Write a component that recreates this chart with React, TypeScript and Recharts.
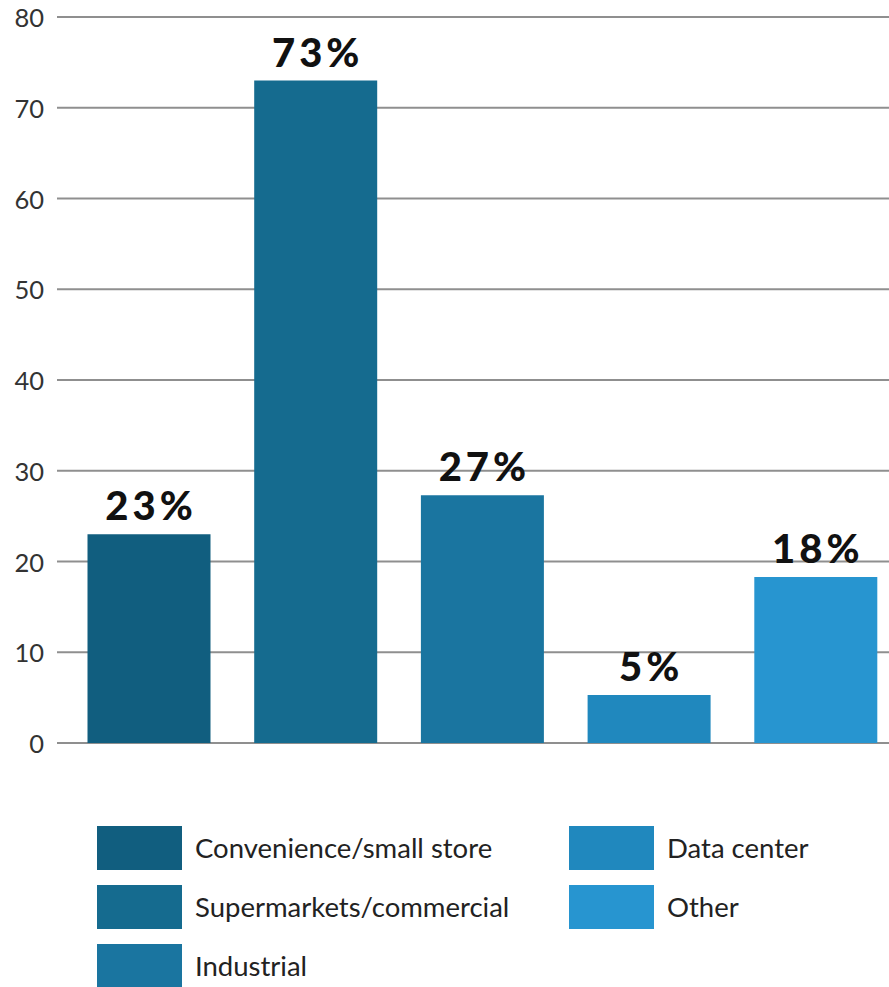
import React from 'react';
import { BarChart, Bar, XAxis, YAxis, CartesianGrid, Cell, LabelList, Legend } from 'recharts';

const categories = ['Convenience/small store', 'Supermarkets/commercial', 'Industrial', 'Data center', 'Other'];
const values = [23, 73, 27.3, 5.3, 18.3];
const valueLabels = ['23%', '73%', '27%', '5%', '18%'];
const colors = ['#115E7F', '#156B8F', '#1A75A0', '#2088BE', '#2795D0'];
const yTicks = [0, 10, 20, 30, 40, 50, 60, 70, 80];

const data = categories.map((name, i) => ({ name, value: values[i], label: valueLabels[i] }));

const legendCols = [[0, 1, 2], [3, 4]];

const LegendContent = () => (
  <div style={{ position: 'relative', width: 889, height: 187 }}>
    {legendCols.map((col, ci) =>
      col.map((idx, ri) => (
        <div
          key={idx}
          style={{
            position: 'absolute',
            left: ci === 0 ? 97 : 569,
            top: 26 + ri * 59,
            display: 'flex',
            alignItems: 'center',
            whiteSpace: 'nowrap',
          }}
        >
          <div style={{ width: 85, height: 44, background: colors[idx] }} />
          <span
            style={{
              marginLeft: 13,
              fontFamily: 'Lato',
              fontSize: 27.5,
              color: '#222',
              lineHeight: '44px',
            }}
          >
            {categories[idx]}
          </span>
        </div>
      ))
    )}
  </div>
);

export default function App() {
  return (
    <div
      style={{
        position: 'absolute',
        left: 0,
        top: 0,
        width: 889,
        height: 987,
        overflow: 'hidden',
        background: '#fff',
      }}
    >
      <BarChart width={899} height={987} data={data} margin={{ top: 17, right: 0, bottom: 244, left: 0 }}>
        <CartesianGrid vertical={false} stroke="#8f8f8f" strokeWidth={2} />
        <XAxis dataKey="name" hide padding={{ left: 8.5, right: 0 }} />
        <YAxis
          width={57}
          domain={[0, 80]}
          ticks={yTicks}
          axisLine={false}
          tickLine={false}
          tickSize={0}
          tickMargin={13}
          tick={{ fill: '#333', fontSize: 25.5, fontFamily: 'Lato', dy: 1 }}
        />
        <Legend
          layout="horizontal"
          verticalAlign="middle"
          align="center"
          wrapperStyle={{ top: 800, left: 0, width: 889 }}
          content={LegendContent}
        />
        <Bar dataKey="value" barSize={123} isAnimationActive={false}>
          {data.map((d, i) => (
            <Cell key={d.name} fill={colors[i]} />
          ))}
          <LabelList
            dataKey="label"
            position="top"
            offset={14}
            fill="#111"
            fontSize={40}
            fontWeight={900}
            fontFamily="Lato"
            letterSpacing={4}
            dx={2}
          />
        </Bar>
      </BarChart>
    </div>
  );
}
